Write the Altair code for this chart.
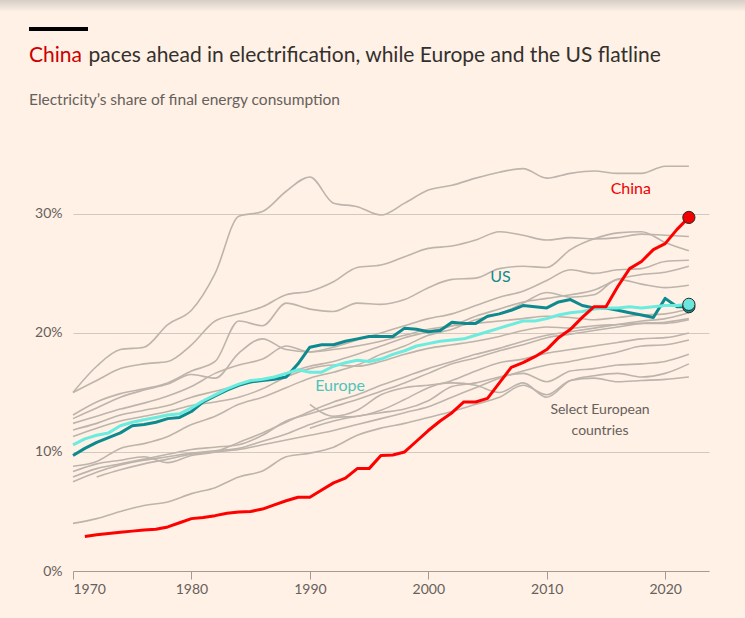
import altair as alt
import pandas as pd

# ---------------------------------------------------------------- data
YEARS = list(range(1970, 2023))
GREY_YEARS = list(range(1970, 2023, 2))

CHINA = [None, 2.9, 3.05, 3.15, 3.25, 3.35, 3.45, 3.5, 3.7, 4.05, 4.4,
         4.5, 4.65, 4.85, 4.95, 5.0, 5.2, 5.55, 5.9, 6.2, 6.2,
         6.8, 7.4, 7.8, 8.6, 8.6, 9.7, 9.75, 10.0, 10.9, 11.8,
         12.6, 13.3, 14.2, 14.2, 14.5, 15.8, 17.1, 17.5, 18.0, 18.6,
         19.6, 20.3, 21.3, 22.2, 22.2, 23.9, 25.4, 26.0, 27.0, 27.5,
         28.7, 29.7]

US = [9.7, 10.3, 10.8, 11.2, 11.6, 12.2, 12.3, 12.5, 12.8, 12.9,
      13.4, 14.2, 14.7, 15.2, 15.6, 15.9, 16.0, 16.1, 16.3, 17.4,
      18.8, 19.0, 19.0, 19.3, 19.5, 19.7, 19.7, 19.7, 20.4, 20.3,
      20.1, 20.2, 20.9, 20.8, 20.8, 21.4, 21.6, 21.9, 22.3, 22.2,
      22.1, 22.6, 22.8, 22.3, 22.1, 22.1, 21.9, 21.7, 21.5, 21.3,
      22.9, 22.2, 22.2]

EUROPE = [10.6, 11.1, 11.4, 11.6, 12.2, 12.5, 12.7, 12.9, 13.1, 13.2,
          13.7, 14.3, 14.8, 15.3, 15.7, 16.0, 16.1, 16.3, 16.6, 16.9,
          16.7, 16.7, 17.2, 17.5, 17.7, 17.6, 17.8, 18.2, 18.5, 18.9,
          19.1, 19.3, 19.4, 19.5, 19.8, 20.1, 20.4, 20.7, 21.0, 21.0,
          21.2, 21.5, 21.7, 21.8, 22.0, 22.1, 22.1, 22.2, 22.1, 22.2,
          22.3, 22.3, 22.4]

# Select European countries, every second year 1970-2022
GREY_01 = [15.0, 17.2, 18.6, 18.8, 20.7, 21.9, 25.0, 29.8, 30.2, 31.9, 33.1, 30.9, 30.6, 29.9,
           30.9, 32.0, 32.4, 33.0, 33.5, 33.8, 33.0, 33.4, 33.6, 33.4, 33.4, 34.0, 34.0]
GREY_02 = [15.0, 16.0, 17.0, 17.4, 17.6, 19.0, 21.0, 21.6, 22.2, 23.2, 23.5, 24.3, 25.5, 25.7,
           26.4, 27.1, 27.3, 27.8, 28.5, 28.2, 27.8, 28.0, 27.9, 28.0, 28.3, 28.2, 28.1]
GREY_03 = [13.1, 14.2, 14.9, 15.3, 15.8, 16.8, 17.6, 21.0, 20.6, 22.5, 22.0, 21.8, 22.5, 22.4,
           22.8, 23.8, 24.5, 24.6, 25.4, 25.6, 25.5, 27.0, 27.9, 28.4, 28.5, 27.6, 26.9]
GREY_04 = [12.4, 13.0, 13.6, 14.1, 14.7, 15.5, 16.6, 17.3, 17.8, 18.9, 18.4, 18.8, 19.4, 20.0,
           20.6, 21.2, 21.6, 22.3, 23.0, 23.5, 24.4, 25.3, 25.0, 25.3, 25.4, 26.0, 26.1]
GREY_05 = [11.85, 12.4, 13.1, 13.5, 13.9, 14.6, 15.1, 15.6, 16.0, 16.6, 17.2, 17.6, 18.2, 18.9,
           19.6, 20.1, 20.6, 21.4, 22.0, 22.6, 22.9, 23.2, 23.6, 24.5, 24.9, 25.1, 25.6]
GREY_06 = [8.8, 9.2, 10.3, 10.7, 11.3, 12.3, 13.0, 14.0, 14.6, 15.4, 16.2, 16.7, 17.3, 18.2,
           18.9, 19.8, 20.3, 21.1, 21.6, 22.5, 23.4, 23.0, 23.2, 24.5, 24.1, 23.8, 24.0]
GREY_07 = [12.8, 13.7, 14.6, 15.2, 15.7, 16.5, 16.2, 18.3, 19.5, 18.6, 18.4, 18.6, 18.9, 19.3,
           19.8, 20.3, 20.6, 20.8, 21.0, 21.2, 21.4, 21.3, 21.1, 21.3, 21.5, 21.6, 22.0]
GREY_08 = [8.35, 9.0, 9.3, 9.6, 9.1, 9.7, 10.0, 10.8, 11.6, 12.5, 13.4, 14.2, 14.8, 15.6,
           16.3, 17.0, 17.6, 18.2, 18.7, 19.3, 19.8, 20.1, 20.4, 20.7, 21.0, 21.2, 21.7]
GREY_09 = [7.9, 8.6, 9.0, 9.4, 9.8, 10.2, 10.4, 10.6, 11.4, 12.6, 13.2, 13.8, 14.4, 15.1,
           15.8, 16.6, 17.4, 17.9, 18.5, 19.0, 19.6, 19.9, 20.2, 20.5, 20.8, 20.9, 21.2]
GREY_10 = [7.5, 8.3, 8.9, 9.3, 9.6, 9.9, 10.1, 10.3, 10.9, 11.5, 12.3, 12.9, 13.0, 13.5,
           14.4, 15.4, 16.0, 16.8, 17.5, 17.8, 18.3, 18.6, 18.9, 19.2, 19.5, 19.6, 20.0]
GREY_11 = [None, 7.9, 8.5, 9.0, 9.4, 9.8, 10.0, 10.2, 10.6, 11.0, 11.4, 11.8, 12.3, 12.8,
           13.3, 13.8, 14.6, 15.4, 16.2, 16.8, 17.3, 17.6, 18.0, 18.4, 18.9, 19.0, 19.4]
GREY_12 = [4.0, 4.4, 5.0, 5.5, 5.8, 6.5, 7.0, 7.9, 8.4, 9.6, 9.9, 10.4, 11.4, 12.0,
           12.4, 12.9, 13.4, 14.0, 14.6, 15.6, 14.8, 16.0, 16.2, 15.9, 16.0, 16.1, 16.3]
GREY_13 = [None, None, None, None, None, None, None, None, None, None, 12.0, 12.6, 13.0, 13.3,
           13.6, 14.3, 15.5, 15.8, 16.3, 16.6, 15.9, 16.8, 17.0, 17.3, 17.4, 17.6, 18.2]
GREY_14 = [None, None, None, None, None, None, None, None, None, None, 14.0, 13.0, 13.5, 14.8,
           15.4, 15.6, 15.8, 15.6, 15.0, 15.8, 14.6, 16.0, 16.4, 16.6, 16.3, 16.6, 17.4]
GREY_15 = [11.3, 12.0, 12.6, 13.0, 13.4, 13.9, 14.2, 14.6, 15.3, 16.3, 17.0, 17.3, 17.2, 17.6,
           18.2, 18.7, 19.0, 19.3, 19.7, 20.2, 20.5, 20.4, 20.6, 20.7, 20.8, 20.8, 21.1]

GREY_SERIES = [GREY_01, GREY_02, GREY_03, GREY_04, GREY_05, GREY_06, GREY_07, GREY_08,
               GREY_09, GREY_10, GREY_11, GREY_12, GREY_13, GREY_14, GREY_15]

X_TICKS = [1970, 1980, 1990, 2000, 2010, 2020]
Y_TICKS = [0, 10, 20, 30]

TITLE_LEAD = "China"
TITLE_REST = "paces ahead in electrification, while Europe and the US flatline"
SUBTITLE = "Electricity\u2019s share of final energy consumption"

# ---------------------------------------------------------------- tables
main_rows = []
for name, values in (("China", CHINA), ("US", US), ("Europe", EUROPE)):
    for year, v in zip(YEARS, values):
        if v is not None:
            main_rows.append({"series": name, "year": year, "value": v})
main_df = pd.DataFrame(main_rows)

grey_rows = []
for i, values in enumerate(GREY_SERIES):
    for year, v in zip(GREY_YEARS, values):
        if v is not None:
            grey_rows.append({"country": f"c{i}", "year": year, "value": v})
grey_df = pd.DataFrame(grey_rows)

end_df = pd.DataFrame({
    "series": ["US", "Europe", "China"],
    "year": [YEARS[-1]] * 3,
    "value": [US[-1], EUROPE[-1], CHINA[-1]],
    "fill": ["#0D8A8F", "#6CE6DC", "#F20000"],
})

# ---------------------------------------------------------------- styling
BG = "#FFF1E5"
FONT = "Lato"
INK = "#33302E"
MUTED = "#66605C"
W, H = 636, 425

x_scale = alt.Scale(domain=[1970, 2023.7], nice=False, zero=False)
y_scale = alt.Scale(domain=[0, 35.7], nice=False, zero=True)

X = alt.X("year:Q", scale=x_scale, title=None,
          axis=alt.Axis(values=X_TICKS, format="d", grid=False,
                        domainColor="#A39B94", domainWidth=1,
                        tickColor="#A39B94", tickSize=8, tickWidth=1,
                        labelFont=FONT, labelFontSize=14, labelColor=MUTED,
                        labelPadding=3))
Y = alt.Y("value:Q", scale=y_scale, title=None,
          axis=alt.Axis(values=Y_TICKS, labelExpr="datum.value + '%'",
                        domain=False, ticks=False, grid=True,
                        gridColor="#D2C8BE", gridWidth=1,
                        labelFont=FONT, labelFontSize=14, labelColor=MUTED,
                        labelPadding=11))

grey = alt.Chart(grey_df).mark_line(
    color="#BDB4AC", strokeWidth=1.6, interpolate="monotone"
).encode(x=X, y=Y, detail="country:N")


def series_line(name, color):
    return alt.Chart(main_df).transform_filter(
        alt.datum.series == name
    ).mark_line(color=color, strokeWidth=3, strokeJoin="round").encode(x=X, y=Y)


us_line = series_line("US", "#0D8A8F")
europe_line = series_line("Europe", "#6CEBDF")
china_line = series_line("China", "#FF0000")

ends = alt.Chart(end_df).mark_circle(
    size=150, opacity=1, stroke="#2A2A2A", strokeWidth=1
).encode(x=X, y=Y, color=alt.Color("fill:N", scale=None))

label_df = pd.DataFrame({
    "text": ["China", "US", "Europe"],
    "year": [2017.1, 2006.1, 1992.55],
    "value": [32.1, 24.7, 15.5],
    "col": ["#F00000", "#0F8A8E", "#4EC4BA"],
})
labels = alt.Chart(label_df).mark_text(
    font=FONT, fontSize=16, align="center", baseline="middle"
).encode(x=X, y=Y, text="text:N", color=alt.Color("col:N", scale=None))

select_df = pd.DataFrame({"text": ["Select European\ncountries"],
                          "year": [2014.5], "value": [13.5]})
select_label = alt.Chart(select_df).mark_text(
    font=FONT, fontSize=14, align="center", baseline="middle",
    lineBreak="\n", lineHeight=21, color=MUTED
).encode(x=X, y=Y, text="text:N")

one = pd.DataFrame({"k": [0]})

top_shade = alt.Chart(one).mark_rect(
    color=alt.LinearGradient(
        gradient="linear",
        stops=[alt.GradientStop(color="#D6CEC7", offset=0),
               alt.GradientStop(color=BG, offset=1)],
        x1=0, x2=0, y1=0, y2=1)
).encode(x=alt.value(-73), x2=alt.value(672), y=alt.value(-146), y2=alt.value(-134))

bar = alt.Chart(one).mark_rule(color="#000000", strokeWidth=4).encode(
    x=alt.value(-44), x2=alt.value(15), y=alt.value(-117))

title_lead = alt.Chart(one).mark_text(
    text=TITLE_LEAD, font=FONT, fontSize=21, color="#CC0000",
    align="left", baseline="alphabetic"
).encode(x=alt.value(-44), y=alt.value(-84))
title_rest = alt.Chart(one).mark_text(
    text=TITLE_REST, font=FONT, fontSize=21, color=INK,
    align="left", baseline="alphabetic"
).encode(x=alt.value(15.6), y=alt.value(-84))
subtitle = alt.Chart(one).mark_text(
    text=SUBTITLE, font=FONT, fontSize=15.5, color=MUTED,
    align="left", baseline="alphabetic"
).encode(x=alt.value(-44), y=alt.value(-41))

chart = alt.layer(
    grey, us_line, europe_line, china_line, ends, labels, select_label,
    top_shade, bar, title_lead, title_rest, subtitle
).properties(
    width=W, height=H,
    background=BG,
    padding={"left": 73, "top": 146, "right": 36, "bottom": 47},
    autosize=alt.AutoSizeParams(type="none"),
).configure_view(stroke=None)

chart.save("out.html", embed_options={"renderer": "svg", "actions": False})
